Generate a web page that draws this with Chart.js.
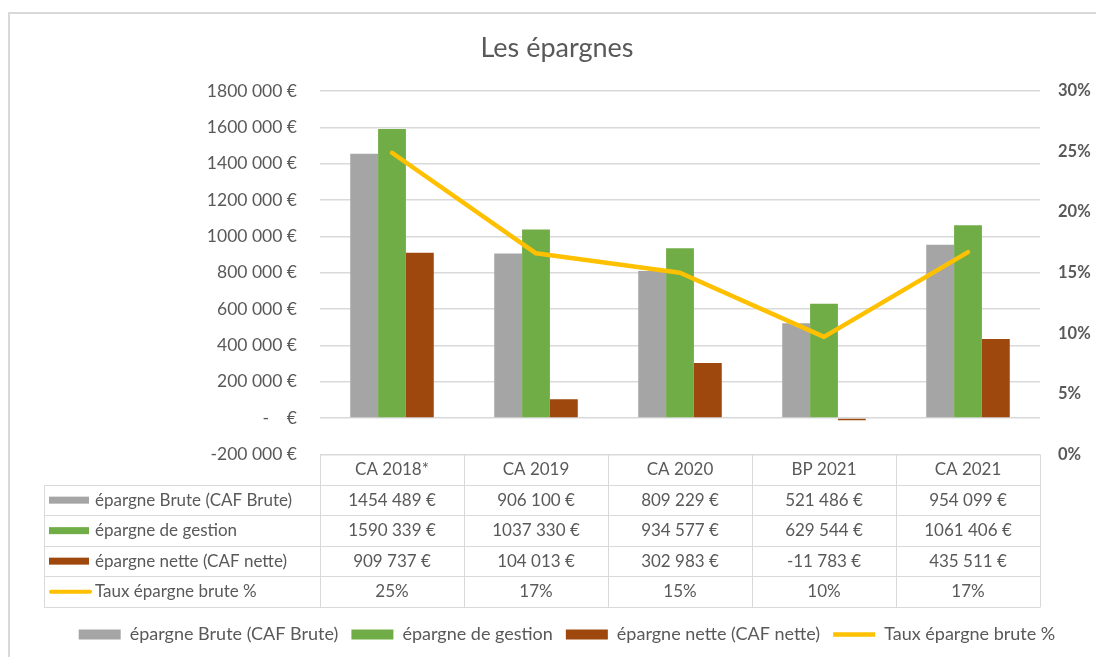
<!DOCTYPE html>
<html>
<head>
<meta charset="utf-8">
<script src="https://cdn.jsdelivr.net/npm/chart.js@4/dist/chart.umd.min.js"></script>
<style>
  html, body { margin: 0; padding: 0; background: #fff; }
  #wrap { width: 1096px; height: 657px; }
</style>
</head>
<body>
<div id="wrap"><canvas id="chart" width="1096" height="657"></canvas></div>
<script>
const categories = ['CA 2018*', 'CA 2019', 'CA 2020', 'BP 2021', 'CA 2021'];
const epargneBrute = [1454489, 906100, 809229, 521486, 954099];
const epargneGestion = [1590339, 1037330, 934577, 629544, 1061406];
const epargneNette = [909737, 104013, 302983, -11783, 435511];
const tauxBrute = [0.249, 0.166, 0.150, 0.097, 0.167];
const seriesNames = ['épargne Brute (CAF Brute)', 'épargne de gestion', 'épargne nette (CAF nette)', 'Taux épargne brute %'];
const colors = ['#a5a5a5', '#70ad47', '#9e480e', '#ffc000'];

const textColor = '#595959';
const gridColor = '#d9d9d9';
const fontFamily = 'Lato, "Open Sans", sans-serif';

// excel shows "1454 489 €" : only the last group is separated
function euro(v) {
  if (v === 0) return '-    €';
  const s = Math.abs(Math.round(v)).toString();
  const grouped = s.length > 3 ? s.slice(0, -3) + ' ' + s.slice(-3) : s;
  return (v < 0 ? '-' : '') + grouped + ' €';
}
function pct(v) { return Math.round(v * 100) + '%'; }

const frame = {
  id: 'frame',
  beforeDraw(chart) {
    const ctx = chart.ctx;
    ctx.save();
    ctx.fillStyle = '#fff';
    ctx.fillRect(0, 0, chart.width, chart.height);
    ctx.strokeStyle = gridColor;
    ctx.lineWidth = 2;
    ctx.beginPath();
    ctx.moveTo(9, chart.height);
    ctx.lineTo(9, 13);
    ctx.lineTo(chart.width, 13);
    ctx.stroke();
    ctx.restore();
  },
  afterLayout(chart) {
    // legend sits a bit right of the title in the original
    if (chart.legend) chart.legend.left += 20;
  }
};

// data table under the plot, like excel's "data table with legend keys"
const dataTable = {
  id: 'dataTable',
  afterDraw(chart) {
    const {ctx, chartArea} = chart;
    const x = chart.scales.x;
    const band = (chartArea.right - chartArea.left) / categories.length;
    const top = chartArea.bottom;
    const rowH = 30.5;
    const labelLeft = 44;
    const rows = [epargneBrute, epargneGestion, epargneNette, tauxBrute];

    ctx.save();
    ctx.strokeStyle = gridColor;
    ctx.lineWidth = 1;
    ctx.beginPath();
    const y0 = Math.round(top) + 0.5;
    ctx.moveTo(chartArea.left, y0);
    ctx.lineTo(chartArea.right, y0);
    for (let r = 1; r <= rows.length + 1; r++) {
      const y = Math.round(top + r * rowH) + 0.5;
      ctx.moveTo(labelLeft, y);
      ctx.lineTo(chartArea.right, y);
    }
    const bottom = Math.round(top + (rows.length + 1) * rowH) + 0.5;
    ctx.moveTo(labelLeft + 0.5, Math.round(top + rowH) + 0.5);
    ctx.lineTo(labelLeft + 0.5, bottom);
    for (let i = 0; i <= categories.length; i++) {
      const xx = Math.round(chartArea.left + i * band) + 0.5;
      ctx.moveTo(xx, y0);
      ctx.lineTo(xx, bottom);
    }
    ctx.stroke();

    ctx.font = '17px ' + fontFamily;
    ctx.textBaseline = 'middle';
    ctx.fillStyle = textColor;
    ctx.textAlign = 'center';
    categories.forEach((c, i) => ctx.fillText(c, x.getPixelForValue(i), top + rowH / 2));

    rows.forEach((vals, r) => {
      const cy = top + (r + 1.5) * rowH;
      ctx.fillStyle = textColor;
      ctx.textAlign = 'center';
      vals.forEach((v, i) => ctx.fillText(r === 3 ? pct(v) : euro(v), x.getPixelForValue(i), cy));
      if (r < 3) {
        ctx.fillStyle = colors[r];
        ctx.fillRect(49, cy - 3.5, 40, 7);
      } else {
        ctx.strokeStyle = colors[r];
        ctx.lineWidth = 4;
        ctx.lineCap = 'round';
        ctx.beginPath();
        ctx.moveTo(51, cy);
        ctx.lineTo(90, cy);
        ctx.stroke();
      }
      ctx.fillStyle = textColor;
      ctx.textAlign = 'left';
      ctx.fillText(seriesNames[r], 95, cy);
    });
    ctx.restore();
  }
};

const ctx = document.getElementById('chart');
new Chart(ctx, {
  type: 'bar',
  data: {
    labels: categories,
    datasets: [
      {
        type: 'line',
        label: seriesNames[3],
        data: tauxBrute,
        yAxisID: 'y1',
        borderColor: colors[3],
        backgroundColor: colors[3],
        borderWidth: 4.5,
        borderCapStyle: 'round',
        borderJoinStyle: 'round',
        pointRadius: 0,
        tension: 0,
        order: 0
      },
      { label: seriesNames[0], data: epargneBrute, backgroundColor: colors[0], yAxisID: 'y', order: 1 },
      { label: seriesNames[1], data: epargneGestion, backgroundColor: colors[1], yAxisID: 'y', order: 1 },
      { label: seriesNames[2], data: epargneNette, backgroundColor: colors[2], yAxisID: 'y', order: 1 }
    ]
  },
  options: {
    responsive: false,
    animation: false,
    devicePixelRatio: 1,
    layout: { padding: { left: 18, right: 0, top: 0, bottom: 3.5 } },
    datasets: {
      bar: { categoryPercentage: 0.58, barPercentage: 1 }
    },
    plugins: {
      title: {
        display: true,
        text: 'Les épargnes',
        color: textColor,
        font: { family: fontFamily, size: 27, weight: 'normal' },
        padding: { top: 31.8, bottom: 26.8 }
      },
      legend: {
        position: 'bottom',
        labels: {
          color: textColor,
          font: { family: fontFamily, size: 18 },
          usePointStyle: true,
          pointStyleWidth: 42,
          boxHeight: 10,
          padding: 13,
          generateLabels(chart) {
            const items = Chart.defaults.plugins.legend.labels.generateLabels(chart);
            items.forEach(it => { it.pointStyle = it.datasetIndex === 0 ? 'line' : 'rect'; });
            // bars first, line last, as in the reference
            return items.slice(1).concat(items.slice(0, 1));
          }
        }
      },
      tooltip: { enabled: false }
    },
    scales: {
      x: {
        offset: true,
        grid: { display: false },
        border: { display: false },
        ticks: { display: false },
        afterFit(s) { s.height = 158.1; }
      },
      y: {
        position: 'left',
        min: -200000,
        max: 1800000,
        ticks: {
          stepSize: 200000,
          callback: v => euro(v),
          color: textColor,
          font: { family: fontFamily, size: 17.5 },
          padding: 23
        },
        grid: { color: gridColor, lineWidth: 1.5, drawTicks: false },
        border: { display: false },
        afterFit(s) { s.width = 302; }
      },
      y1: {
        position: 'right',
        min: 0,
        max: 0.3,
        ticks: {
          stepSize: 0.05,
          callback: v => pct(v),
          color: textColor,
          font: { family: fontFamily, size: 16.5, weight: 'bold' },
          padding: 18
        },
        grid: { display: false, drawTicks: false },
        border: { display: false },
        afterFit(s) { s.width = 56; }
      }
    }
  },
  plugins: [frame, dataTable]
});
</script>
</body>
</html>
